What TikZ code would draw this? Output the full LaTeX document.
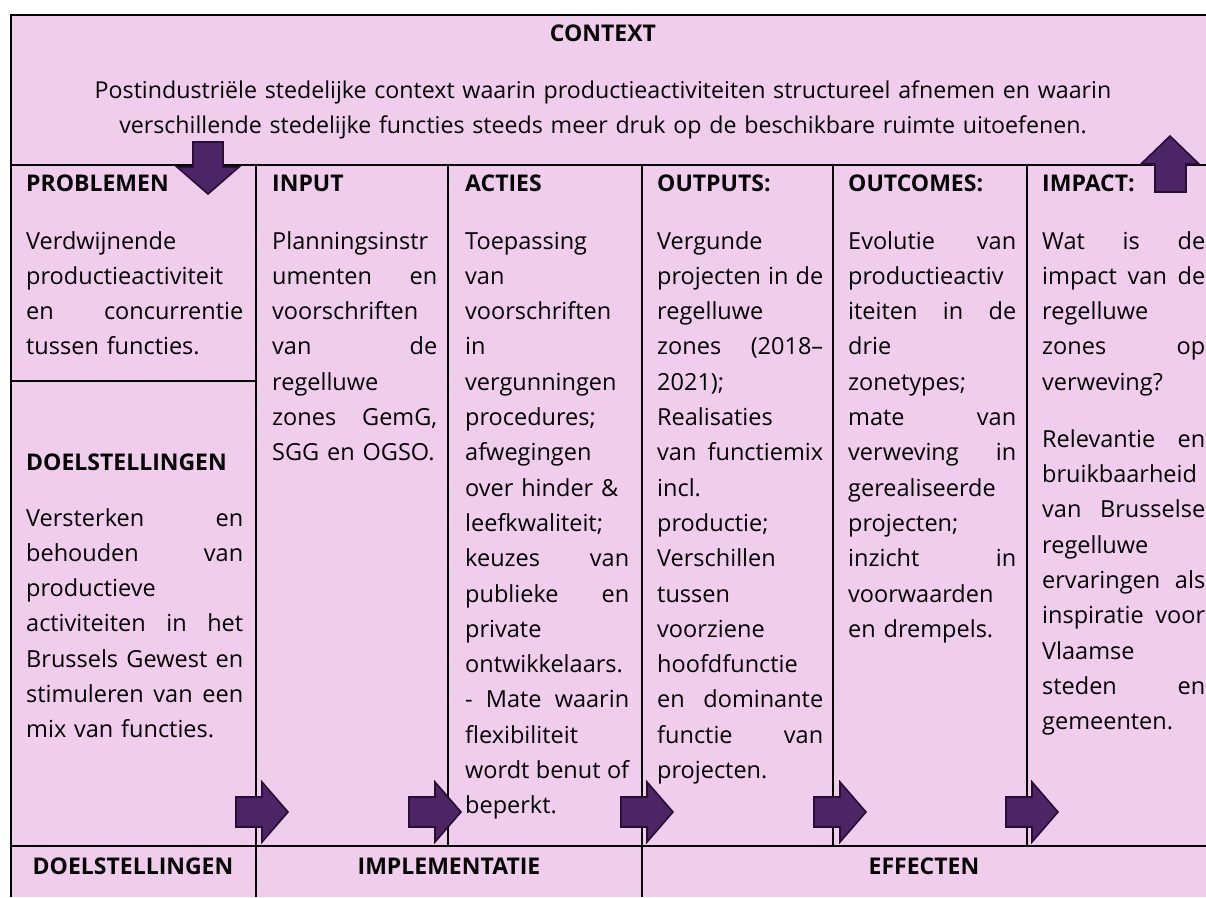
\documentclass[tikz,border=0pt]{standalone}
\usepackage{fontspec}
\setmainfont{Open Sans}
\definecolor{cellpink}{RGB}{240,205,236}
\definecolor{arrowfill}{RGB}{77,36,102}
\definecolor{arrowline}{RGB}{40,14,50}
\newcommand\cellheadfont{\fontsize{23}{27}\selectfont\bfseries}
\newcommand\celltextfont{\fontsize{23.5}{35.3}\selectfont}
% a line stretched to the full column width (the ragged setting fixes \spaceskip, so it is reset here)
\newcommand\jus[1]{\makebox[\hsize][s]{\spaceskip=0.26em plus 1fil\relax #1}}
\tikzset{
  rule/.style={line width=2pt, black},
  head/.style={font=\cellheadfont, anchor=base west, inner sep=0pt},
  foot/.style={font=\cellheadfont, anchor=base, inner sep=0pt},
  body/.style={font=\celltextfont, anchor=base west, inner sep=0pt, align=left},
  bigarrow/.style={fill=arrowfill, draw=arrowline, line width=1.6pt, line join=miter},
  rightarrow/.pic={\path[bigarrow] (0,-15) -- (26,-15) -- (26,-30) -- (52,0) -- (26,30) -- (26,15) -- (0,15) -- cycle;}
}
\begin{document}
\begin{tikzpicture}[x=1pt,y=-1pt]
\useasboundingbox (0,0) rectangle (1206,897);
\fill[cellpink] (11,15) rectangle (1206,897);

% grid
\draw[rule] (1206,15) -- (11,15) -- (11,897);
\draw[rule] (11,165) -- (1206,165);
\draw[rule] (11,381) -- (256,381);
\draw[rule] (11,846) -- (1206,846);
\draw[rule] (256,165) -- (256,897);
\draw[rule] (448,165) -- (448,846);
\draw[rule] (642,165) -- (642,897);
\draw[rule] (833,165) -- (833,846);
\draw[rule] (1027,165) -- (1027,846);

% context band
\node[foot] (ctxhead) at (603,41) {CONTEXT};
\node[font=\fontsize{23.2}{35}\selectfont, anchor=base, inner sep=0pt, align=center, text width=1180pt] (ctxtext) at (603,98)
  {Postindustriële stedelijke context waarin productieactiviteiten structureel afnemen en waarin\\
   verschillende stedelijke functies steeds meer druk op de beschikbare ruimte uitoefenen.};

% column headings
\node[head] (hprob) at (26,191) {PROBLEMEN};
\node[head] (hinput) at (272,191) {INPUT};
\node[head] (hacties) at (465,191) {ACTIES};
\node[head] (houtputs) at (657,191) {OUTPUTS:};
\node[head] (houtcomes) at (848,191) {OUTCOMES:};
\node[head] (himpact) at (1042,191) {IMPACT:};
\node[head] (hdoel) at (26,470) {DOELSTELLINGEN};

% column texts
\node[body, text width=217pt] (tprob) at (26,249)
  {Verdwijnende\\
   productieactiviteit\\
   \jus{en concurrentie}\\
   tussen functies.};
\node[body, text width=217pt] (tdoel) at (26,526)
  {\jus{Versterken en}\\
   \jus{behouden van}\\
   productieve\\
   \jus{activiteiten in het}\\
   \jus{Brussels Gewest en}\\
   \jus{stimuleren van een}\\
   mix van functies.};
\node[body, text width=165pt] (tinput) at (272,249)
  {Planningsinstr\\
   \jus{umenten en}\\
   voorschriften\\
   \jus{van de}\\
   regelluwe\\
   \jus{zones GemG,}\\
   SGG en OGSO.};
\node[body, text width=164pt] (tacties) at (465,249)
  {Toepassing\\
   van\\
   voorschriften\\
   in\\
   vergunningen\\
   procedures;\\
   afwegingen\\
   over hinder \&\\
   leefkwaliteit;\\
   \jus{keuzes van}\\
   \jus{publieke en}\\
   private\\
   ontwikkelaars.\\
   \jus{- Mate waarin}\\
   flexibiliteit\\
   \jus{wordt benut of}\\
   beperkt.};
\node[body, text width=166pt] (toutputs) at (657,249)
  {Vergunde\\
   \jus{projecten in de}\\
   regelluwe\\
   \jus{zones (2018–}\\
   2021);\\
   Realisaties\\
   \jus{van functiemix}\\
   incl.\\
   productie;\\
   Verschillen\\
   tussen\\
   voorziene\\
   hoofdfunctie\\
   \jus{en dominante}\\
   \jus{functie van}\\
   projecten.};
\node[body, text width=168pt] (toutcomes) at (848,249)
  {\jus{Evolutie van}\\
   productieactiv\\
   \jus{iteiten in de}\\
   drie\\
   zonetypes;\\
   \jus{mate van}\\
   \jus{verweving in}\\
   gerealiseerde\\
   projecten;\\
   \jus{inzicht in}\\
   voorwaarden\\
   en drempels.};
\node[body, text width=163pt] (timpact) at (1042,249)
  {\jus{Wat is de}\\
   \jus{impact van de}\\
   regelluwe\\
   \jus{zones op}\\
   verweving?\\[21.7pt]
   \jus{Relevantie en}\\
   bruikbaarheid\\
   \jus{van Brusselse}\\
   regelluwe\\
   \jus{ervaringen als}\\
   \jus{inspiratie voor}\\
   Vlaamse\\
   \jus{steden en}\\
   gemeenten.};

% bottom band
\node[foot] (fdoel) at (133,874) {DOELSTELLINGEN};
\node[foot] (fimpl) at (449,874) {IMPLEMENTATIE};
\node[foot] (feff) at (924,874) {EFFECTEN};

% block arrows
\path[bigarrow] (193,142) -- (223,142) -- (223,167) -- (239,167) -- (208,194)
  -- (177,167) -- (193,167) -- cycle;
\path[bigarrow] (1155,192) -- (1155,164) -- (1141,164) -- (1170,136) -- (1199,164)
  -- (1186,164) -- (1186,192) -- cycle;
\pic at (236,812) {rightarrow};
\pic at (409,812) {rightarrow};
\pic at (621,812) {rightarrow};
\pic at (814,812) {rightarrow};
\pic at (1006,812) {rightarrow};
\end{tikzpicture}
\end{document}
